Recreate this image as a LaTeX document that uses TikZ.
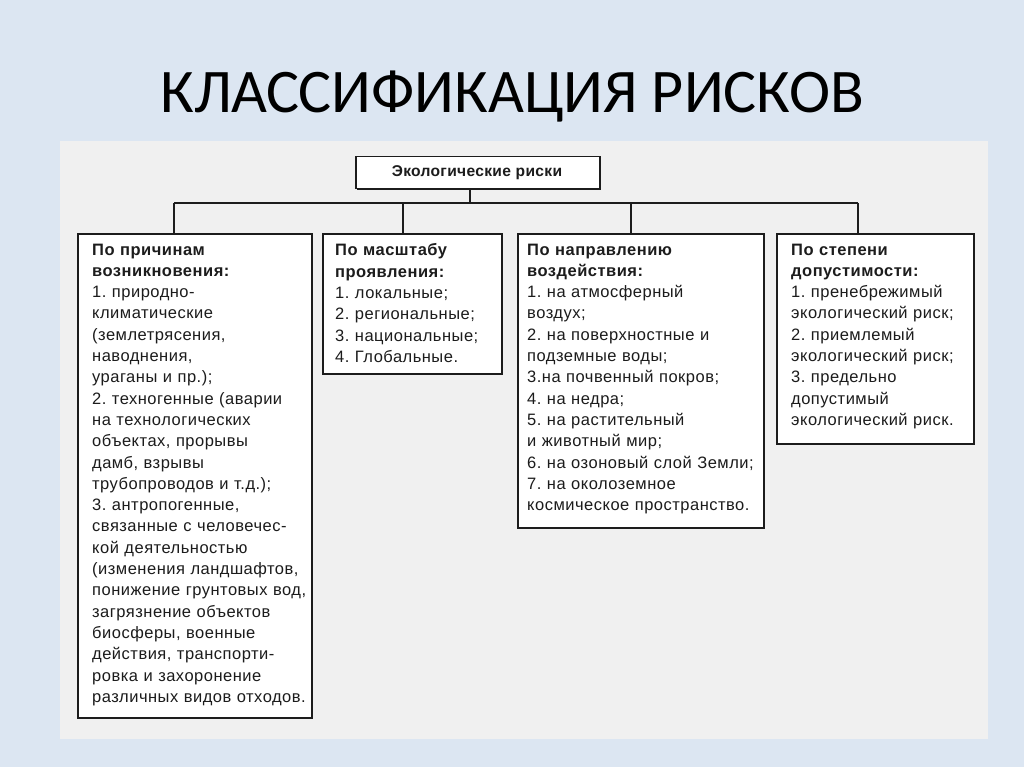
\documentclass[tikz,border=0pt]{standalone}
\usepackage{fontspec}
\usetikzlibrary{shadows}
\setmainfont{Liberation Sans}
\newfontfamily\titlefont{Carlito}
\newfontfamily\bodyfont[LetterSpace=3]{Liberation Sans}
\newfontfamily\headfont[LetterSpace=2]{Liberation Sans}
\definecolor{bgblue}{HTML}{DCE6F2}
\definecolor{panelgrey}{HTML}{F0F0F0}
\definecolor{ink}{HTML}{1C1C1C}
\tikzset{
  box/.style={draw=ink, line width=1.5pt, fill=white, inner sep=0pt, anchor=north west,
    drop shadow={shadow xshift=1.3pt, shadow yshift=-1.3pt, fill=ink, opacity=1}},
  txt/.style={anchor=north west, inner sep=0pt, align=left, text=ink, text width=#1,
    font=\bodyfont\fontsize{16.5}{21.3}\selectfont\frenchspacing},
  conn/.style={draw=ink, line width=1.4pt}
}
\begin{document}
\begin{tikzpicture}[x=1pt,y=-1pt]
\useasboundingbox (0,0) rectangle (1024,767);
\fill[bgblue] (0,0) rectangle (1024,767);
\fill[panelgrey] (60,141) rectangle (988,739);
\node[anchor=base, inner sep=0pt, font=\titlefont\fontsize{62}{64}\selectfont] (title) at (512,113) {КЛАССИФИКАЦИЯ РИСКОВ};

% top box
\node[box, minimum width=244pt, minimum height=32pt] (top) at (355,156) {};
\node[anchor=center, inner sep=0pt, text=ink, font=\headfont\bfseries\fontsize{15.6}{18}\selectfont] (toptxt) at (477,173) {Экологические риски};

% category boxes
\node[box, minimum width=234pt, minimum height=484pt] (b1) at (77,233) {};
\node[box, minimum width=179pt, minimum height=140pt] (b2) at (322,233) {};
\node[box, minimum width=246pt, minimum height=294pt] (b3) at (517,233) {};
\node[box, minimum width=197pt, minimum height=210pt] (b4) at (776,233) {};

% connectors
\coordinate (s0) at (470,203);
\coordinate (s1) at (174,203);
\coordinate (s2) at (403,203);
\coordinate (s3) at (631,203);
\coordinate (s4) at (858,203);
\draw[conn] (s0 |- top.south) -- (s0);
\draw[conn] (s1) -- (s4);
\draw[conn] (s1) -- (s1 |- b1.north);
\draw[conn] (s2) -- (s2 |- b2.north);
\draw[conn] (s3) -- (s3 |- b3.north);
\draw[conn] (s4) -- (s4 |- b4.north);

% texts
\node[txt=260pt] (t1) at (92,243.5) {\textbf{По причинам}\\
\textbf{возникновения:}\\
1. природно-\\
климатические\\
(землетрясения,\\
наводнения,\\
ураганы и пр.);\\
2. техногенные (аварии\\
на технологических\\
объектах, прорывы\\
дамб, взрывы\\
трубопроводов и т.д.);\\
3. антропогенные,\\
связанные с человечес-\\
кой деятельностью\\
(изменения ландшафтов,\\
понижение грунтовых вод,\\
загрязнение объектов\\
биосферы, военные\\
действия, транспорти-\\
ровка и захоронение\\
различных видов отходов.};

\node[txt=200pt] (t2) at (335,243.5) {\textbf{По масштабу}\\
\textbf{проявления:}\\
1. локальные;\\
2. региональные;\\
3. национальные;\\
4. Глобальные.};

\node[txt=280pt] (t3) at (527,243.5) {\textbf{По направлению}\\
\textbf{воздействия:}\\
1. на атмосферный\\
воздух;\\
2. на поверхностные и\\
подземные воды;\\
3.на почвенный покров;\\
4. на недра;\\
5. на растительный\\
и животный мир;\\
6. на озоновый слой Земли;\\
7. на околоземное\\
космическое пространство.};

\node[txt=220pt] (t4) at (791,243.5) {\textbf{По степени}\\
\textbf{допустимости:}\\
1. пренебрежимый\\
экологический риск;\\
2. приемлемый\\
экологический риск;\\
3. предельно\\
допустимый\\
экологический риск.};
\end{tikzpicture}
\end{document}
